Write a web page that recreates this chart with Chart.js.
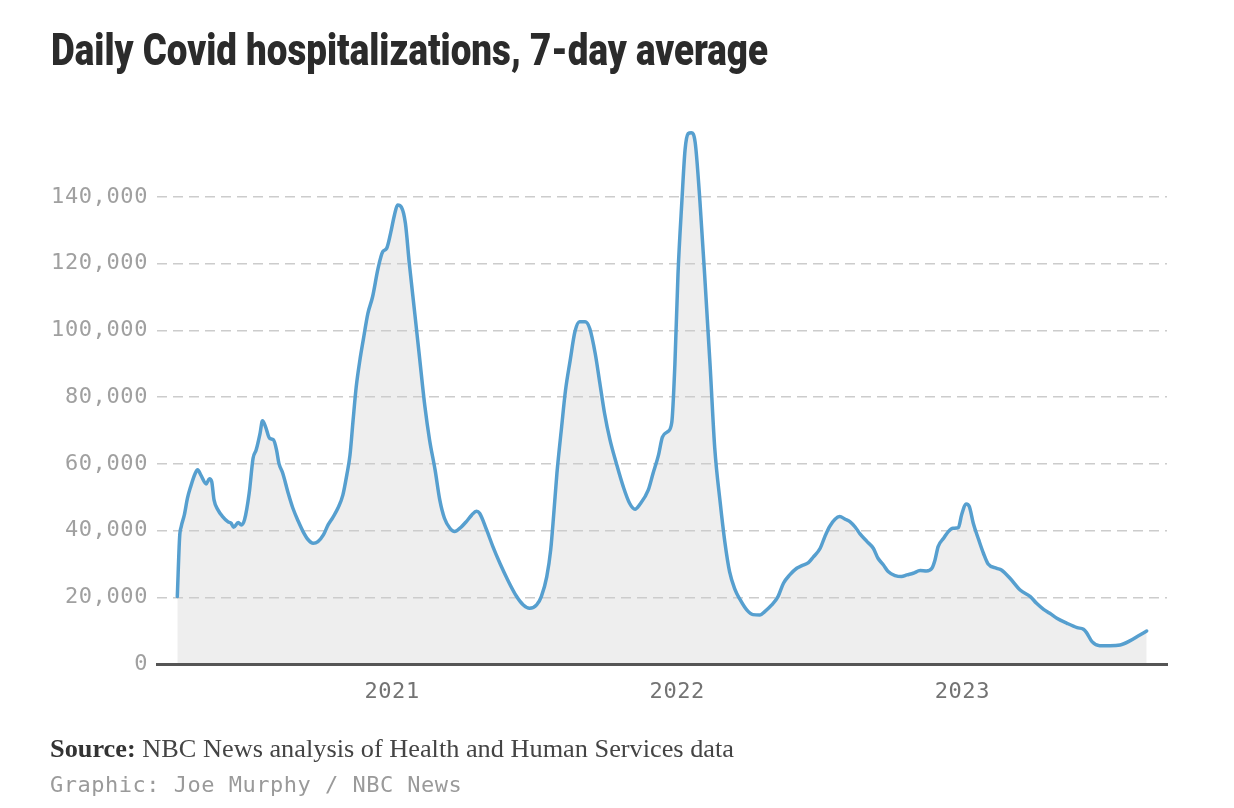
<!DOCTYPE html>
<html><head><meta charset="utf-8">
<script src="https://cdn.jsdelivr.net/npm/chart.js@4.4.0/dist/chart.umd.min.js"></script>
<style>
html,body{margin:0;padding:0;background:#fff;width:1234px;height:808px;overflow:hidden;}
#wrap{position:absolute;left:0;top:0;width:1234px;height:808px;}
.t{position:absolute;white-space:nowrap;transform-origin:0 0;line-height:1;}
#title{left:51px;top:27.5px;font-family:Roboto,'Liberation Sans',sans-serif;font-weight:900;font-size:44px;color:#2b2b2b;}
#source{left:50px;top:736px;font-family:'Liberation Serif',serif;font-size:25px;color:#444;}
#source b{color:#333;}
#credit{left:50px;top:773.5px;font-family:'DejaVu Sans Mono',monospace;font-size:22px;letter-spacing:0.5px;color:#9a9a9a;}
</style></head>
<body>
<div id="wrap"><canvas id="c" width="1234" height="808"></canvas></div>
<div class="t" id="title" data-w="717">Daily Covid hospitalizations, 7-day average</div>
<div class="t" id="source" data-w="684"><b>Source:</b> NBC News analysis of Health and Human Services data</div>
<div class="t" id="credit">Graphic: Joe Murphy / NBC News</div>
<script>
const dates = [
 '2020-04-01','2020-04-04','2020-04-06','2020-04-10','2020-04-14','2020-04-18','2020-04-24','2020-04-27','2020-05-01','2020-05-08',
 '2020-05-12','2020-05-15','2020-05-18','2020-05-23','2020-05-29','2020-06-05','2020-06-09','2020-06-12','2020-06-18','2020-06-22',
 '2020-06-26','2020-07-02','2020-07-07','2020-07-11','2020-07-16','2020-07-19','2020-07-23','2020-07-28','2020-08-02','2020-08-06',
 '2020-08-09','2020-08-14','2020-08-21','2020-08-27','2020-09-03','2020-09-09','2020-09-15','2020-09-22','2020-09-28','2020-10-05',
 '2020-10-11','2020-10-17','2020-10-24','2020-10-30','2020-11-04','2020-11-08','2020-11-12','2020-11-16','2020-11-21','2020-11-25',
 '2020-12-01','2020-12-07','2020-12-14','2020-12-20','2020-12-25','2020-12-30','2021-01-04','2021-01-08','2021-01-13','2021-01-18',
 '2021-01-23','2021-01-30','2021-02-05','2021-02-12','2021-02-18','2021-02-25','2021-03-03','2021-03-09','2021-03-16','2021-03-22',
 '2021-03-31','2021-04-06','2021-04-13','2021-04-19','2021-04-23','2021-05-02','2021-05-10','2021-05-19','2021-05-29','2021-06-09',
 '2021-06-18','2021-06-26','2021-07-05','2021-07-11','2021-07-18','2021-07-23','2021-07-27','2021-07-31','2021-08-06','2021-08-11',
 '2021-08-17','2021-08-23','2021-08-29','2021-09-05','2021-09-11','2021-09-18','2021-09-24','2021-09-30','2021-10-07','2021-10-15',
 '2021-10-24','2021-11-01','2021-11-08','2021-11-14','2021-11-25','2021-12-01','2021-12-08','2021-12-13','2021-12-20','2021-12-25',
 '2021-12-29','2022-01-02','2022-01-07','2022-01-11','2022-01-15','2022-01-19','2022-01-24','2022-01-30','2022-02-05','2022-02-12',
 '2022-02-18','2022-02-25','2022-03-03','2022-03-09','2022-03-16','2022-03-22','2022-03-31','2022-04-08','2022-04-17','2022-04-23',
 '2022-05-02','2022-05-10','2022-05-17','2022-05-25','2022-06-03','2022-06-09','2022-06-18','2022-06-24','2022-07-03','2022-07-09',
 '2022-07-15','2022-07-22','2022-07-28','2022-08-04','2022-08-10','2022-08-17','2022-08-23','2022-09-01','2022-09-09','2022-09-15',
 '2022-09-22','2022-09-28','2022-10-07','2022-10-15','2022-10-22','2022-10-30','2022-11-08','2022-11-16','2022-11-23','2022-11-27',
 '2022-12-01','2022-12-08','2022-12-14','2022-12-20','2022-12-27','2022-12-31','2023-01-06','2023-01-10','2023-01-15','2023-01-22',
 '2023-01-28','2023-02-03','2023-02-14','2023-02-20','2023-03-03','2023-03-16','2023-03-29','2023-04-06','2023-04-15','2023-04-23',
 '2023-05-02','2023-05-15','2023-05-28','2023-06-05','2023-06-09','2023-06-16','2023-06-26','2023-07-09','2023-07-22','2023-08-04',
 '2023-08-14','2023-08-25'
];
const hospitalizations = [
 20200,38200,41200,44700,49700,53100,57200,58200,56700,54000,
 55500,54700,49200,46200,44200,42600,42200,41000,42400,41700,
 43200,51200,61700,64200,69200,72900,71100,67700,67200,64200,
 60200,57200,51200,46700,42700,39700,37400,36200,36700,38700,
 41700,43900,46900,50700,56700,62500,73000,83000,91500,97100,
 105100,110100,118600,123600,124600,129100,134600,137600,136900,132100,
 120100,105100,92100,77100,67100,58200,49200,43700,40700,39700,
 41200,42700,44700,45800,45200,40200,35200,30200,25200,20400,
 17700,16700,17700,20200,26200,34200,45200,57200,71100,82100,
 91100,99600,102600,102600,100600,93100,84100,75100,67100,60200,
 53100,48200,46400,47800,52200,57100,62600,68000,69700,72400,
 89800,117000,138900,154100,159000,159300,156300,138900,117000,89800,
 64800,48400,36500,27700,22300,19500,16200,14800,14700,15700,
 17700,20200,24200,26700,28700,29400,30400,32000,34700,38200,
 41200,43400,44200,43400,42700,41000,39000,36700,34700,31700,
 29700,27700,26500,26200,26700,27200,28000,27900,28700,31200,
 35200,37700,39700,40700,40900,44700,48000,47200,42200,37200,
 33200,30000,28700,28200,25700,22200,20200,18200,16400,15200,
 13700,12200,10900,10400,9400,6700,5500,5500,5700,7000,
 8400,9900
];
const yearTickDates = ['2021-01-01','2022-01-01','2023-01-01'];
const yearTickLabels = ['2021','2022','2023'];
const yTickValues = [0,20000,40000,60000,80000,100000,120000,140000];
const xRange = ['2020-03-06','2023-09-20'];
const yRange = [0,160000];

const dayOf = s => (Date.parse(s + 'T00:00:00Z') - Date.parse('2020-01-01T00:00:00Z')) / 86400000;
const points = dates.map((d, i) => ({x: dayOf(d), y: hospitalizations[i]}));
const tickFont = {family: "'DejaVu Sans Mono', monospace", size: 22};

new Chart(document.getElementById('c').getContext('2d'), {
  type: 'line',
  data: {datasets: [{
    data: points,
    borderColor: '#569fcf',
    borderWidth: 3.5,
    backgroundColor: '#eeeeee',
    fill: 'origin',
    pointRadius: 0,
    cubicInterpolationMode: 'monotone',
    borderCapStyle: 'round',
    borderJoinStyle: 'round',
    clip: false
  }]},
  options: {
    responsive: false,
    animation: false,
    events: [],
    layout: {padding: {left: 0, top: 130.3, right: 67, bottom: 94}},
    plugins: {legend: {display: false}, tooltip: {enabled: false}, filler: {drawTime: 'beforeDraw'}},
    scales: {
      x: {
        type: 'linear',
        min: dayOf(xRange[0]), max: dayOf(xRange[1]),
        afterBuildTicks: s => { s.ticks = yearTickDates.map(d => ({value: dayOf(d)})); },
        afterFit: s => { s.height = 50; },
        ticks: {callback: (v, i) => yearTickLabels[i], padding: 15, color: '#737373', font: tickFont, maxRotation: 0, autoSkip: false},
        grid: {display: false, drawTicks: false},
        border: {display: true, color: '#555555', width: 3}
      },
      y: {
        min: yRange[0], max: yRange[1],
        afterBuildTicks: s => { s.ticks = yTickValues.map(v => ({value: v})); },
        afterFit: s => { s.width = 157; },
        ticks: {callback: v => v.toLocaleString('en-US'), padding: 9, color: '#a0a0a0', font: tickFont},
        grid: {color: c => (c.tick && c.tick.value === 0) ? 'rgba(0,0,0,0)' : '#cccccc', lineWidth: 1.5, drawTicks: false},
        border: {display: false, dash: [10, 6]}
      }
    }
  },
  plugins: [{id: 'spacing', beforeDraw(c) { c.ctx.letterSpacing = '0.6px'; }}]
});

function fit() {
  document.querySelectorAll('.t[data-w]').forEach(el => {
    el.style.transform = 'none';
    const w = el.getBoundingClientRect().width;
    el.style.transform = 'scaleX(' + (parseFloat(el.dataset.w) / w) + ')';
  });
}
fit();
if (document.fonts && document.fonts.ready) document.fonts.ready.then(fit);
</script>
</body></html>
